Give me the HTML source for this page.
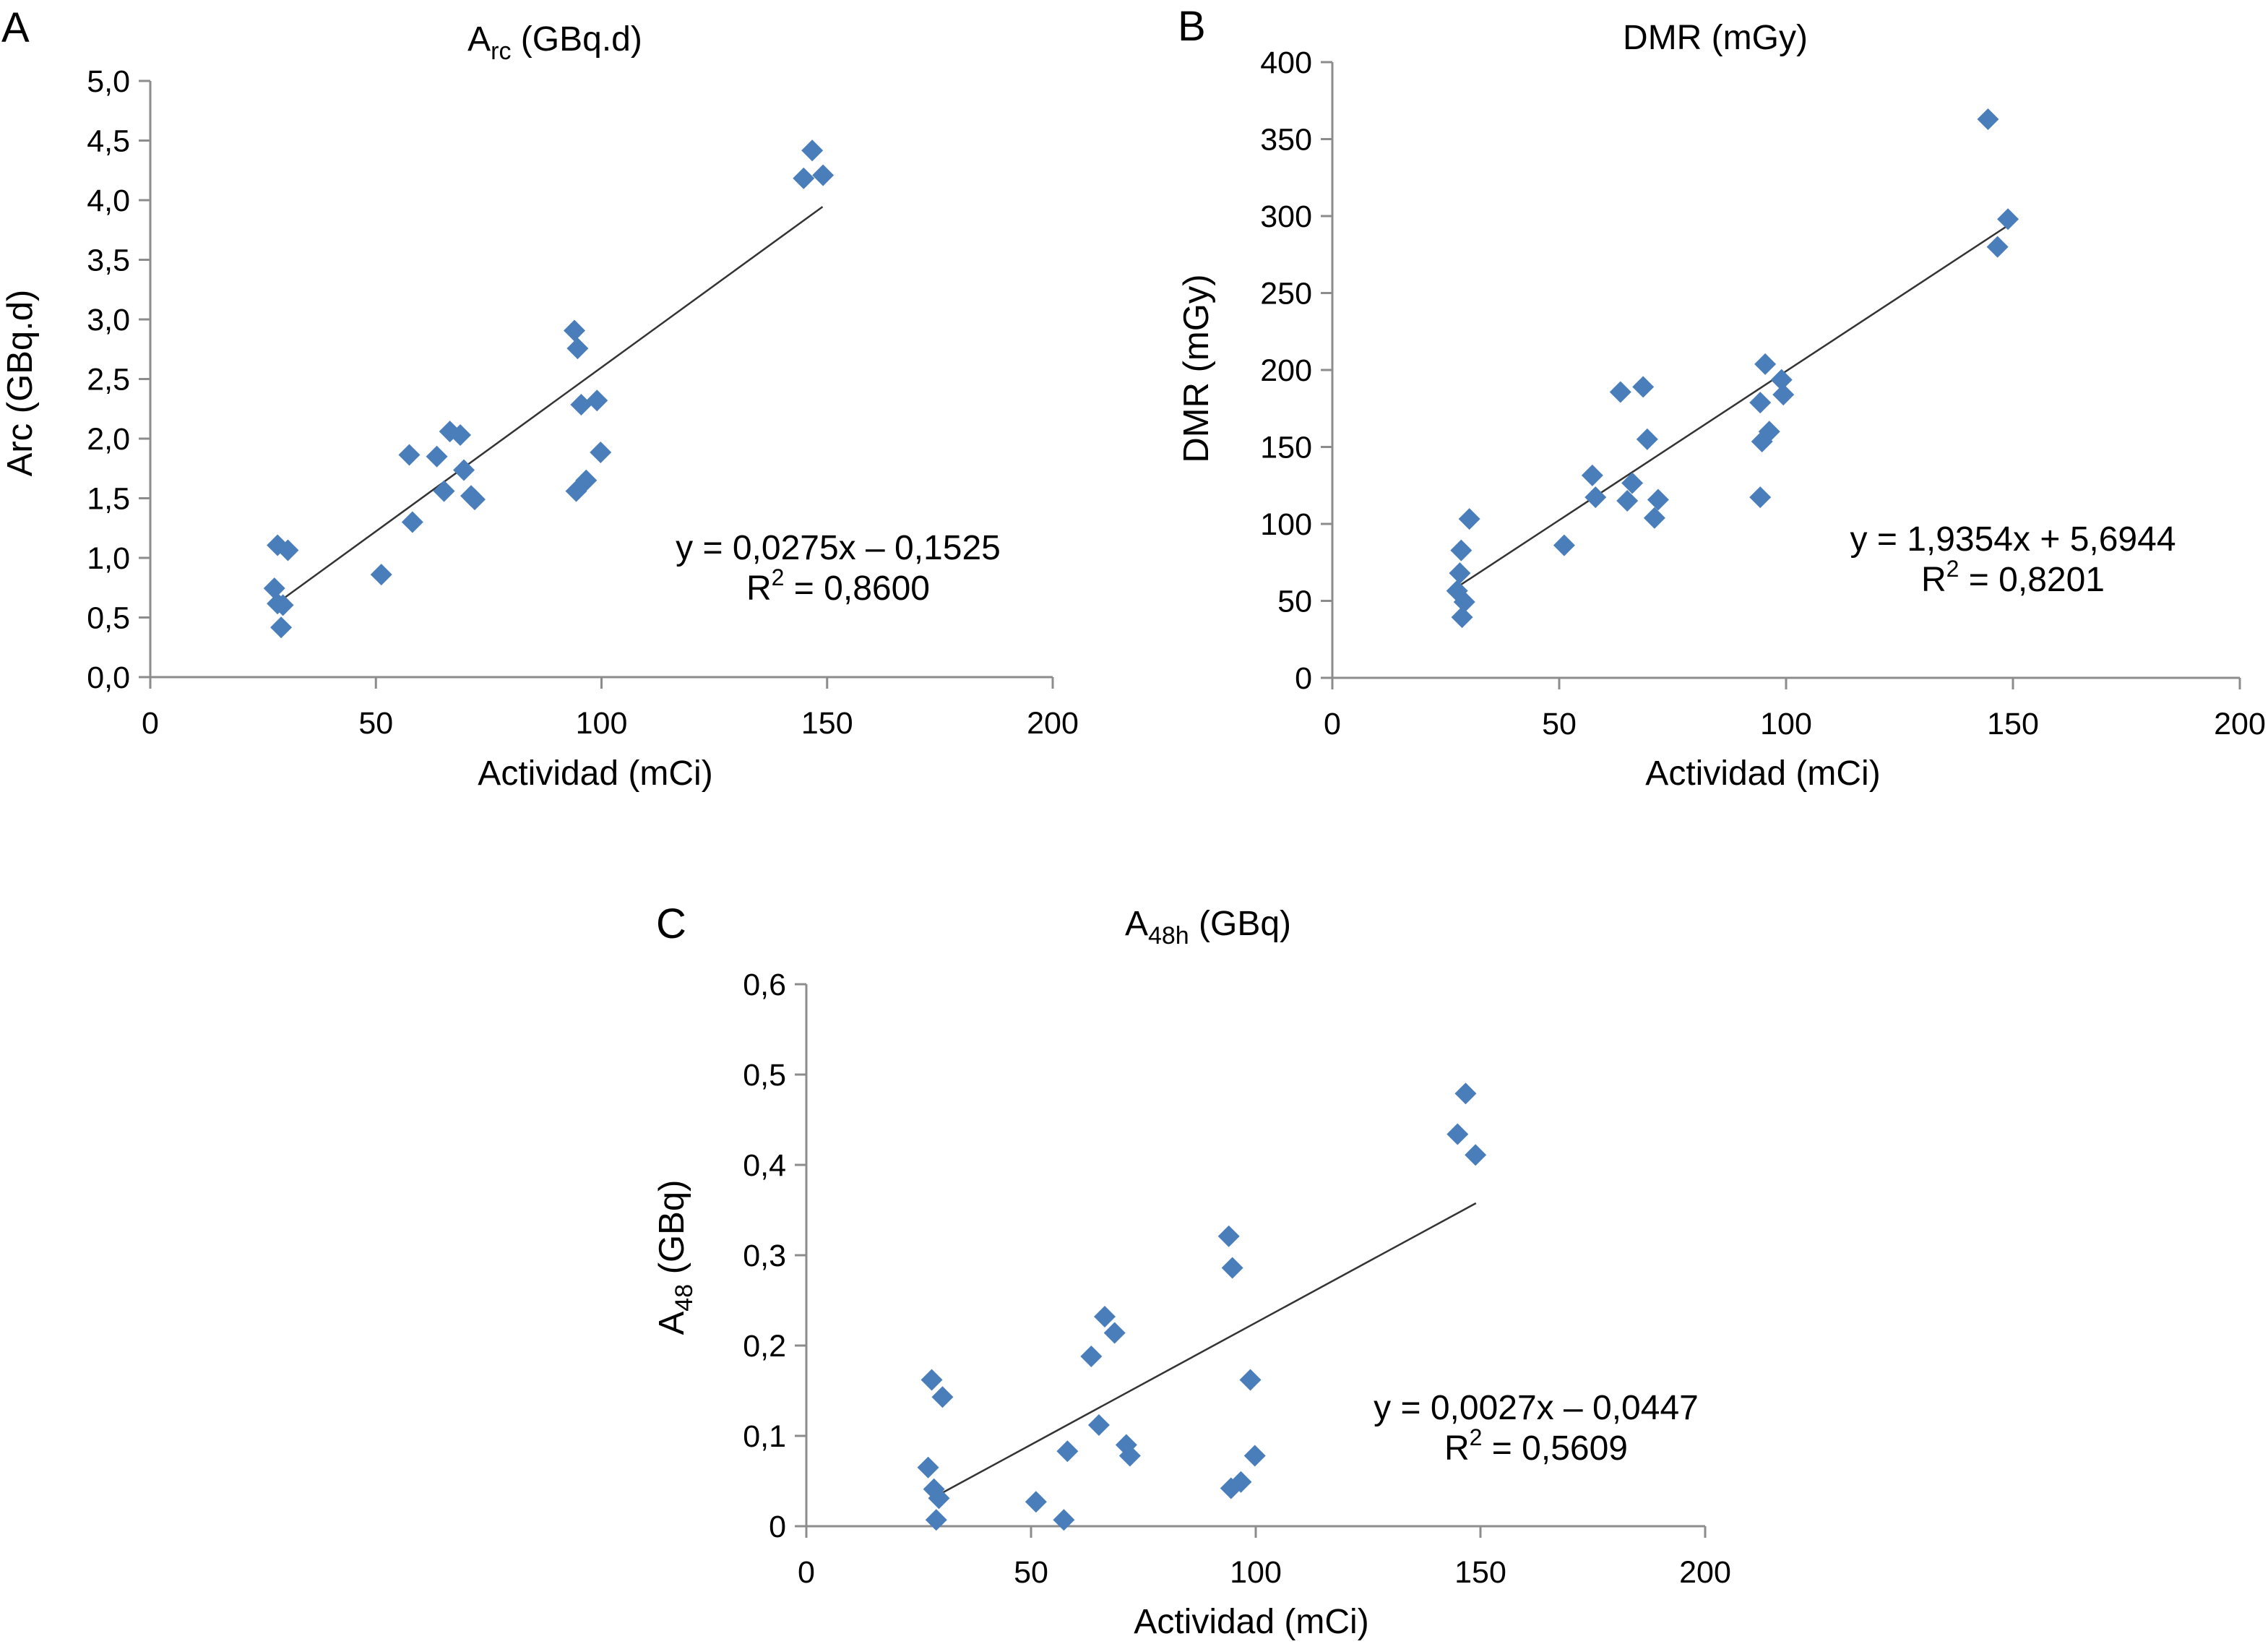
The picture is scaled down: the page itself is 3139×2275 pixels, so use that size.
<!DOCTYPE html>
<html><head><meta charset="utf-8"><style>
html,body{margin:0;padding:0;background:#fff;}
svg{display:block;font-family:"Liberation Sans",sans-serif;}
</style></head><body>
<svg id="fig" width="3139" height="2275" viewBox="0 0 3139 2275" xmlns="http://www.w3.org/2000/svg">
<rect x="0" y="0" width="3139" height="2275" fill="#fff"/>
</svg>
<script>
// Panel A data
const aX = [27.5,28.2,30.5,28.2,29.4,29.0,51.2,58.1,57.4,63.5,65.1,66.4,68.7,69.5,71.1,71.9,94.0,94.7,95.5,99.0,99.8,94.4,96.6,146.7,144.8,149.1];
const aY = [0.745,1.106,1.064,0.617,0.604,0.417,0.86,1.30,1.864,1.85,1.56,2.06,2.03,1.736,1.52,1.49,2.906,2.757,2.285,2.32,1.885,1.56,1.65,4.417,4.183,4.209];
const aTicksY = ["0,0","0,5","1,0","1,5","2,0","2,5","3,0","3,5","4,0","4,5","5,0"];
const aTickVals = [0,0.5,1,1.5,2,2.5,3,3.5,4,4.5,5];
const aFit = [0.0275,-0.1525];
// Panel B data
const bX = [144.5,148.9,146.6,95.4,99.0,99.4,94.3,96.3,94.7,94.3,63.5,68.5,69.4,57.3,58.0,66.1,65.0,71.8,71.0,51.1,30.2,28.4,28.1,27.5,29.1,28.6];
const bY = [362.9,298,280,203.8,193.6,184,178.8,160,153.5,117.3,185.7,189,155,131.5,117.3,126.5,115,115.7,103.9,86.1,103.2,82.8,68,56.5,49.3,39.4];
const bTicksY = ["0","50","100","150","200","250","300","350","400"];
const bTickVals = [0,50,100,150,200,250,300,350,400];
const bFit = [1.9354,5.6944];
// Panel C data
const cX = [146.7,144.9,148.9,94.0,94.8,66.4,68.6,63.4,98.8,27.9,30.3,65.1,58.1,71.2,72.0,99.8,27.1,28.4,29.5,28.9,51.1,57.3,94.5,96.7];
const cY = [0.479,0.434,0.411,0.321,0.286,0.232,0.214,0.188,0.162,0.162,0.143,0.112,0.083,0.090,0.078,0.078,0.065,0.041,0.031,0.007,0.027,0.007,0.042,0.049];
const cTicksY = ["0","0,1","0,2","0,3","0,4","0,5","0,6"];
const cTickVals = [0,0.1,0.2,0.3,0.4,0.5,0.6];
const cFit = [0.0027,-0.0447];
const xTickVals = [0,50,100,150,200];
const xTicks = ["0","50","100","150","200"];

const NS="http://www.w3.org/2000/svg";
const svg=document.getElementById('fig');
function mk(tag,attrs,parent,txt){const e=document.createElementNS(NS,tag);for(const k in attrs)e.setAttribute(k,attrs[k]);if(txt!==undefined)e.textContent=txt;(parent||svg).appendChild(e);return e;}

function panel(cfg){
  const g=mk('g',{});
  
  
  const sx=v=>cfg.x0+(v-0)/200*(cfg.x1-cfg.x0);
  const sy=v=>cfg.y0-(v-0)/cfg.ymax*(cfg.y0-cfg.y1);
  const ax=mk('line',{x1:cfg.x0,y1:cfg.y0,x2:cfg.x1,y2:cfg.y0,stroke:'#8c8c8c','stroke-width':3},g);
  
  
  const ay=mk('line',{x1:cfg.x0,y1:cfg.y0,x2:cfg.x0,y2:cfg.y1,stroke:'#8c8c8c','stroke-width':3},g);
  
  
  xTickVals.forEach((v,i)=>{
    const X=sx(v);
    mk('line',{x1:X,y1:cfg.y0,x2:X,y2:cfg.y0+16,stroke:'#8c8c8c','stroke-width':3},g);
    const t=mk('text',{x:X,y:cfg.y0+78,'text-anchor':'middle','font-size':43,fill:'#000'},g,xTicks[i]);
    
    
  });
  cfg.tv.forEach((v,i)=>{
    const Y=sy(v);
    mk('line',{x1:cfg.x0-16,y1:Y,x2:cfg.x0,y2:Y,stroke:'#8c8c8c','stroke-width':3},g);
    const t=mk('text',{x:cfg.x0-28,y:Y+15,'text-anchor':'end','font-size':43,fill:'#000'},g,cfg.tl[i]);
    
    
  });
  const xa=cfg.fitX[0],xb=cfg.fitX[1];
  const tl=mk('line',{x1:sx(xa),y1:sy(cfg.fit[0]*xa+cfg.fit[1]),x2:sx(xb),y2:sy(cfg.fit[0]*xb+cfg.fit[1]),stroke:'#333','stroke-width':2.5},g);
  
  
  cfg.xs.forEach((v,i)=>{
    const X=sx(v),Y=sy(cfg.ys[i]),r=15;
    const p=mk('polygon',{points:`${X},${Y-r} ${X+r},${Y} ${X},${Y+r} ${X-r},${Y}`,fill:'#4a7ebb'},g);
    
    
  });
  return g;
}
panel({name:'panel-a',x0:208,x1:1457,y0:937,y1:112,ymax:5,xs:aX,ys:aY,tv:aTickVals,tl:aTicksY,fit:aFit,fitX:[28,149]});
panel({name:'panel-b',x0:1844,x1:3100,y0:938,y1:86,ymax:400,xs:bX,ys:bY,tv:bTickVals,tl:bTicksY,fit:bFit,fitX:[28,149]});
panel({name:'panel-c',x0:1116,x1:2360,y0:2112,y1:1362,ymax:0.6,xs:cX,ys:cY,tv:cTickVals,tl:cTicksY,fit:cFit,fitX:[28,149]});
</script>
<svg width="3139" height="2275" style="position:absolute;left:0;top:0" xmlns="http://www.w3.org/2000/svg" font-family="Liberation Sans, sans-serif">
<text x="2" y="58" font-size="58">A</text>
<text x="768" y="70" font-size="48" text-anchor="middle">A<tspan font-size="34" dy="12">rc</tspan><tspan dy="-12"> (GBq.d)</tspan></text>
<text transform="translate(44,530) rotate(-90)" font-size="49" text-anchor="middle">Arc (GBq.d)</text>
<text x="824" y="1086" font-size="48" text-anchor="middle">Actividad (mCi)</text>
<text x="1160" y="774" font-size="48" text-anchor="middle">y = 0,0275x – 0,1525</text>
<text x="1160" y="830" font-size="48" text-anchor="middle">R<tspan font-size="32" dy="-20">2</tspan><tspan dy="20"> = 0,8600</tspan></text>

<text x="1630" y="56" font-size="58">B</text>
<text x="2374" y="68" font-size="48" text-anchor="middle">DMR (mGy)</text>
<text transform="translate(1672,510) rotate(-90)" font-size="49" text-anchor="middle">DMR (mGy)</text>
<text x="2440" y="1086" font-size="48" text-anchor="middle">Actividad (mCi)</text>
<text x="2786" y="762" font-size="48" text-anchor="middle">y = 1,9354x + 5,6944</text>
<text x="2786" y="818" font-size="48" text-anchor="middle">R<tspan font-size="32" dy="-20">2</tspan><tspan dy="20"> = 0,8201</tspan></text>

<text x="908" y="1298" font-size="58">C</text>
<text x="1672" y="1294" font-size="48" text-anchor="middle">A<tspan font-size="34" dy="12">48h</tspan><tspan dy="-12"> (GBq)</tspan></text>
<text transform="translate(946,1740) rotate(-90)" font-size="49" text-anchor="middle">A<tspan font-size="34" dy="12">48</tspan><tspan dy="-12"> (GBq)</tspan></text>
<text x="1732" y="2260" font-size="48" text-anchor="middle">Actividad (mCi)</text>
<text x="2126" y="1964" font-size="48" text-anchor="middle">y = 0,0027x – 0,0447</text>
<text x="2126" y="2020" font-size="48" text-anchor="middle">R<tspan font-size="32" dy="-20">2</tspan><tspan dy="20"> = 0,5609</tspan></text>
</svg>
</body></html>
